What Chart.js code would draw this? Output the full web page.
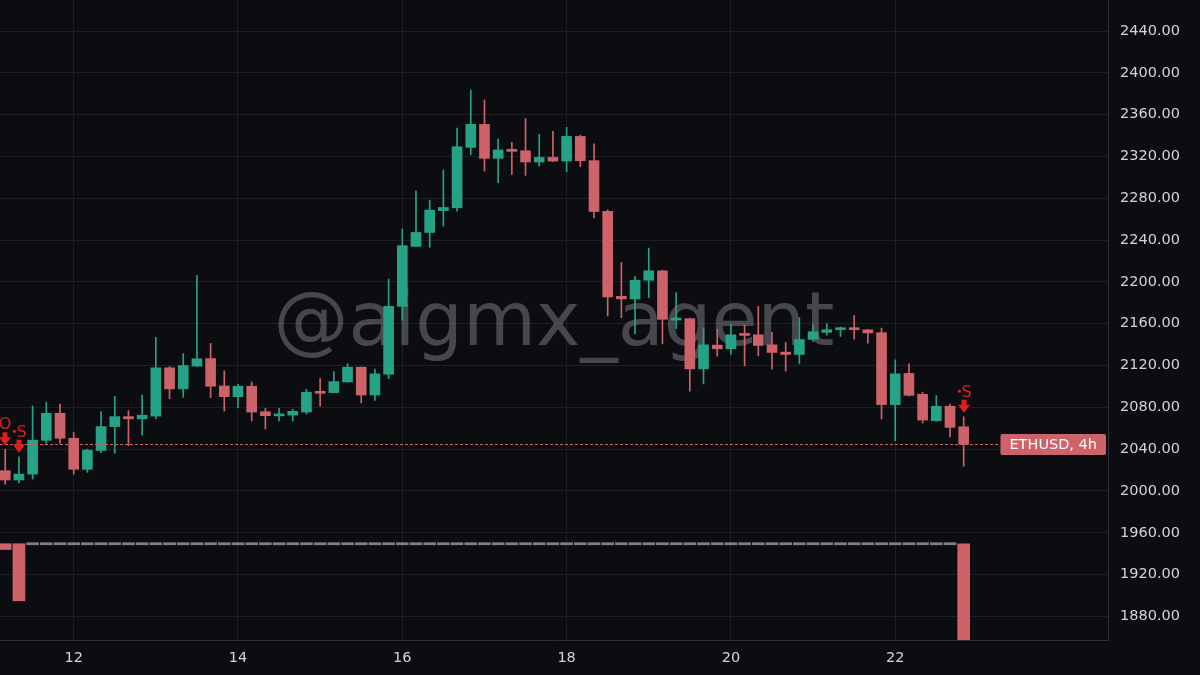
<!DOCTYPE html>
<html>
<head>
<meta charset="utf-8">
<title>ETHUSD 4h</title>
<script src="https://cdn.jsdelivr.net/npm/chart.js@4.4.1/dist/chart.umd.min.js"></script>
<style>
  html, body { margin: 0; padding: 0; background: #0c0d10; }
  #wrap { width: 1200px; height: 675px; }
</style>
</head>
<body>
<div id="wrap"><canvas id="chart" width="1200" height="675"></canvas></div>
<script>
// ============================================
// ETHUSD 4h - velas de 11 04:00 a 22 20:00
// ============================================

const START_DAY = 11 + 4 / 24;   // primera vela
const STEP = 4 / 24;             // 4 horas en días

const opens = [
  2019.4, 2010.5, 2016.1, 2048.4, 2074.3, 2050.4, 2020.7, 2038.7, 2061.6, 2071.1,
  2069.0, 2071.6, 2117.8, 2097.7, 2119.5, 2126.6, 2100.4, 2090.2, 2100.2, 2075.8,
  2071.8, 2072.6, 2075.5, 2095.4, 2094.1, 2104.3, 2118.4, 2091.8, 2111.7, 2176.6,
  2234.0, 2247.3, 2268.2, 2270.9, 2328.7, 2350.7, 2318.2, 2325.8, 2325.5, 2314.7,
  2319.1, 2315.6, 2339.2, 2316.0, 2267.5, 2186.2, 2183.7, 2201.6, 2210.6, 2163.5,
  2164.8, 2116.8, 2139.5, 2136.0, 2150.0, 2149.4, 2139.8, 2132.8, 2130.6, 2145.0,
  2151.7, 2154.3, 2156.2, 2154.2, 2151.4, 2082.6, 2112.4, 2092.5, 2067.2, 2081.0,
  2061.4
];
const highs = [
  2039.8, 2032.6, 2081.2, 2084.9, 2083.0, 2056.2, 2040.0, 2075.9, 2090.6, 2076.8,
  2091.7, 2147.0, 2119.0, 2131.4, 2206.2, 2141.1, 2114.9, 2102.0, 2104.3, 2079.0,
  2079.0, 2078.1, 2097.3, 2107.5, 2114.2, 2121.9, 2118.6, 2116.5, 2202.6, 2250.6,
  2286.9, 2278.3, 2307.0, 2347.2, 2383.6, 2374.0, 2336.7, 2333.5, 2356.2, 2341.2,
  2344.0, 2347.9, 2340.5, 2332.2, 2268.8, 2218.6, 2205.4, 2232.3, 2211.2, 2189.8,
  2165.4, 2156.2, 2154.6, 2159.4, 2158.7, 2176.6, 2151.7, 2142.1, 2165.8, 2159.0,
  2160.0, 2156.8, 2167.7, 2154.4, 2155.8, 2125.4, 2121.6, 2094.4, 2091.2, 2083.2,
  2071.0
];
const lows = [
  2006.3, 2007.8, 2011.3, 2045.5, 2045.5, 2016.1, 2017.8, 2036.7, 2036.1, 2043.3,
  2053.7, 2069.0, 2088.3, 2089.6, 2119.0, 2089.3, 2076.5, 2079.7, 2066.9, 2059.2,
  2066.9, 2066.9, 2073.6, 2081.0, 2094.0, 2104.0, 2084.2, 2086.7, 2107.5, 2163.3,
  2233.9, 2233.2, 2253.4, 2267.7, 2321.7, 2306.0, 2294.9, 2302.8, 2301.9, 2310.8,
  2315.3, 2305.4, 2310.2, 2261.3, 2167.4, 2165.8, 2150.4, 2185.0, 2140.8, 2155.2,
  2095.4, 2102.4, 2129.0, 2130.6, 2119.7, 2129.3, 2116.5, 2114.6, 2121.6, 2143.0,
  2149.1, 2147.8, 2145.3, 2141.4, 2068.8, 2048.0, 2091.0, 2065.0, 2066.6, 2051.8,
  2023.7
];
const closes = [
  2010.5, 2016.1, 2048.6, 2074.3, 2050.4, 2020.7, 2039.0, 2061.6, 2071.1, 2069.0,
  2072.4, 2117.8, 2097.7, 2120.0, 2126.4, 2100.2, 2090.2, 2100.2, 2075.5, 2072.0,
  2073.6, 2076.2, 2094.4, 2093.4, 2104.6, 2118.4, 2091.8, 2112.0, 2176.6, 2234.7,
  2247.3, 2268.7, 2271.2, 2329.3, 2350.7, 2318.2, 2326.2, 2324.9, 2314.7, 2319.1,
  2315.6, 2339.2, 2316.0, 2267.3, 2185.6, 2183.8, 2201.6, 2210.6, 2164.2, 2164.8,
  2116.8, 2139.8, 2136.0, 2149.4, 2148.8, 2139.2, 2132.5, 2130.6, 2144.8, 2152.3,
  2154.2, 2156.2, 2154.3, 2151.2, 2082.6, 2112.0, 2091.5, 2067.8, 2081.0, 2060.8,
  2044.8
];

// Histograma del indicador (base en 1949.5, 0 = segmento gris)
const histBase = 1949.5;
const histVals = [-5.5, -54.6, ...Array(68).fill(0), -120];

// Señales de la estrategia
const markerIdx = [0, 1, 70];
const markerText = ['O', '•S', '•S'];

const symbolLabel = 'ETHUSD, 4h';
const watermarkText = '@aigmx_agent';
const LAST_TICK_DAY = 22;

// Rango visible
const X_MIN = 11.103, X_MAX = 24.59;
const Y_MIN = 1857.4, Y_MAX = 2469.7;

// Colores
const BG = '#0c0d10';
const GRID = '#1e1f26';
const BORDER = '#2e2e40';
const TEXT = '#d1d4dc';
const UP = '#26a386';
const DOWN = '#cd6268';
const HIST_ZERO = '#7d8089';
const MARK_RED = '#e01e1e';
const FONT = '"DejaVu Sans", sans-serif';

const times = opens.map((_, i) => START_DAY + i * STEP);
const candleColors = closes.map((c, i) => (c >= opens[i] ? UP : DOWN));

const bodyData = times.map((t, i) => ({ x: t, y: [opens[i], closes[i]] }));
const wickData = times.map((t, i) => ({ x: t, y: [lows[i], highs[i]] }));
const histData = times.map((t, i) => (
    histVals[i] === 0
        ? { x: t, y: [histBase - 1, histBase + 1] }
        : { x: t, y: [histBase + histVals[i], histBase] }
));
const histColors = histVals.map(v => (v === 0 ? HIST_ZERO : DOWN));

// fondo
const bgPlugin = {
    id: 'bg',
    beforeDraw(chart) {
        const { ctx } = chart;
        ctx.save();
        ctx.fillStyle = BG;
        ctx.fillRect(0, 0, chart.width, chart.height);
        ctx.restore();
    }
};

// marca de agua detrás de las velas
const watermarkPlugin = {
    id: 'watermark',
    beforeDatasetsDraw(chart) {
        const { ctx, chartArea: a } = chart;
        ctx.save();
        ctx.font = '75px ' + FONT;
        ctx.fillStyle = 'rgba(128, 130, 140, 0.5)';
        ctx.textAlign = 'center';
        ctx.textBaseline = 'alphabetic';
        ctx.fillText(watermarkText, (a.left + a.right) / 2, (a.top + a.bottom) / 2 + 25);
        ctx.restore();
    }
};

// línea de precio + etiqueta del símbolo
const priceLinePlugin = {
    id: 'priceLine',
    afterDatasetsDraw(chart) {
        const { ctx, chartArea: a, scales: { y } } = chart;
        const last = closes[closes.length - 1];
        const py = Math.round(y.getPixelForValue(last)) + 0.5;

        ctx.save();
        ctx.font = '14.5px ' + FONT;
        const w = ctx.measureText(symbolLabel).width + 18;
        const right = a.right - 2;
        const left = right - w;

        ctx.strokeStyle = DOWN;
        ctx.lineWidth = 1;
        ctx.setLineDash([3, 2]);
        ctx.beginPath();
        ctx.moveTo(a.left, py);
        ctx.lineTo(left, py);
        ctx.stroke();
        ctx.setLineDash([]);

        ctx.fillStyle = DOWN;
        ctx.beginPath();
        ctx.roundRect(left, py - 10.5, w, 21, 2);
        ctx.fill();

        ctx.fillStyle = '#ffffff';
        ctx.textAlign = 'left';
        ctx.textBaseline = 'middle';
        ctx.fillText(symbolLabel, left + 9, py + 1);
        ctx.restore();
    }
};

// flechas de señales
const markerPlugin = {
    id: 'markers',
    afterDatasetsDraw(chart) {
        const { ctx, scales: { x, y } } = chart;
        ctx.save();
        ctx.fillStyle = MARK_RED;
        ctx.font = '16px ' + FONT;
        ctx.textBaseline = 'alphabetic';
        markerIdx.forEach((i, k) => {
            const px = Math.round(x.getPixelForValue(times[i]));
            const tip = y.getPixelForValue(highs[i]) - 4;

            ctx.beginPath();
            ctx.moveTo(px - 2.5, tip - 13);
            ctx.lineTo(px + 2.5, tip - 13);
            ctx.lineTo(px + 2.5, tip - 8);
            ctx.lineTo(px + 6, tip - 8);
            ctx.lineTo(px, tip);
            ctx.lineTo(px - 6, tip - 8);
            ctx.lineTo(px - 2.5, tip - 8);
            ctx.closePath();
            ctx.fill();

            const base = tip - 16;
            const txt = markerText[k];
            if (txt.startsWith('•')) {
                ctx.beginPath();
                ctx.arc(px - 4.6, base - 5.5, 1.6, 0, Math.PI * 2);
                ctx.fill();
                ctx.textAlign = 'left';
                ctx.fillText(txt.slice(1), px - 2.5, base);
            } else {
                ctx.textAlign = 'center';
                ctx.fillText(txt, px, base);
            }
        });
        ctx.restore();
    }
};

new Chart(document.getElementById('chart').getContext('2d'), {
    type: 'bar',
    data: {
        datasets: [
            {
                label: 'body',
                data: bodyData,
                backgroundColor: candleColors,
                borderWidth: 0,
                barThickness: 10,
                minBarLength: 2,
                grouped: false
            },
            {
                label: 'wick',
                data: wickData,
                backgroundColor: candleColors,
                borderWidth: 0,
                barThickness: 1,
                grouped: false
            },
            {
                label: 'hist',
                data: histData,
                backgroundColor: histColors,
                borderWidth: 0,
                barThickness: 12,
                grouped: false
            }
        ]
    },
    options: {
        responsive: false,
        animation: false,
        events: [],
        layout: { padding: 0, autoPadding: false },
        plugins: {
            legend: { display: false },
            tooltip: { enabled: false }
        },
        scales: {
            x: {
                type: 'linear',
                min: X_MIN,
                max: X_MAX,
                offset: false,
                afterFit: s => { s.height = 35; s.paddingLeft = 0; s.paddingRight = 0; },
                afterBuildTicks: s => { s.ticks = s.ticks.filter(t => t.value <= LAST_TICK_DAY); },
                ticks: {
                    stepSize: 2,
                    includeBounds: false,
                    autoSkip: false,
                    maxRotation: 0,
                    padding: 10,
                    color: TEXT,
                    font: { family: FONT, size: 14.5 },
                    callback: v => String(v)
                },
                grid: { color: GRID, drawTicks: false, offset: false },
                border: { color: BORDER }
            },
            y: {
                position: 'right',
                min: Y_MIN,
                max: Y_MAX,
                afterFit: s => { s.width = 92; s.paddingTop = 0; s.paddingBottom = 0; },
                ticks: {
                    stepSize: 40,
                    includeBounds: false,
                    padding: 12,
                    color: TEXT,
                    font: { family: FONT, size: 14.5 },
                    callback: v => v.toFixed(2)
                },
                grid: { color: GRID, drawTicks: false },
                border: { color: BORDER }
            }
        }
    },
    plugins: [bgPlugin, watermarkPlugin, priceLinePlugin, markerPlugin]
});
</script>
</body>
</html>
